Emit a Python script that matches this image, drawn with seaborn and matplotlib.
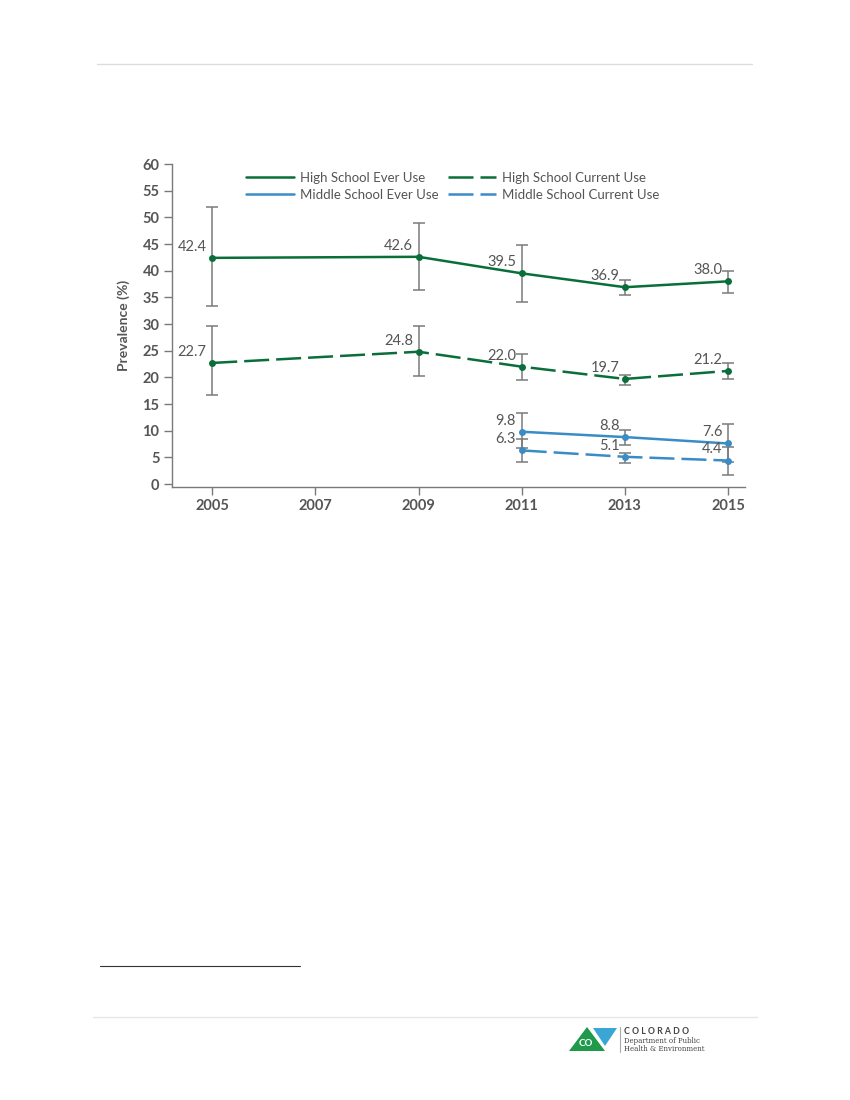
import numpy as np
import pandas as pd
import matplotlib
matplotlib.use("Agg")
import matplotlib.pyplot as plt
import seaborn as sns
from matplotlib.patches import Polygon
from matplotlib.lines import Line2D

# ---- data ----
series_names = ["High School Ever Use", "High School Current Use",
                "Middle School Ever Use", "Middle School Current Use"]
hs_years = [2005, 2009, 2011, 2013, 2015]
ms_years = [2011, 2013, 2015]
hs_ever = [42.4, 42.6, 39.5, 36.9, 38.0]
hs_ever_lo = [33.3, 36.4, 34.2, 35.4, 35.9]
hs_ever_hi = [51.9, 48.9, 44.8, 38.2, 39.9]
hs_curr = [22.7, 24.8, 22.0, 19.7, 21.2]
hs_curr_lo = [16.7, 20.3, 19.5, 18.5, 19.6]
hs_curr_hi = [29.6, 29.6, 24.4, 20.4, 22.6]
ms_ever = [9.8, 8.8, 7.6]
ms_ever_lo = [6.8, 7.3, 4.1]
ms_ever_hi = [13.4, 10.2, 11.2]
ms_curr = [6.3, 5.1, 4.4]
ms_curr_lo = [4.2, 3.9, 1.7]
ms_curr_hi = [8.5, 5.9, 7.0]
x_ticks = [2005, 2007, 2009, 2011, 2013, 2015]
y_ticks = list(range(0, 61, 5))

GREEN = "#0a6e3a"
BLUE = "#3a8cc6"
GRAY = "#555555"
EBAR = "#7a7a7a"

sns.set_theme(style="white")
plt.rcParams['font.family'] = ['Lato', 'DejaVu Sans']

rows = []
for name, yrs, vals, lo, hi in [
    (series_names[0], hs_years, hs_ever, hs_ever_lo, hs_ever_hi),
    (series_names[1], hs_years, hs_curr, hs_curr_lo, hs_curr_hi),
    (series_names[2], ms_years, ms_ever, ms_ever_lo, ms_ever_hi),
    (series_names[3], ms_years, ms_curr, ms_curr_lo, ms_curr_hi),
]:
    for y, v, l, h in zip(yrs, vals, lo, hi):
        rows.append(dict(series=name, year=y, value=v, lo=l, hi=h))
df = pd.DataFrame(rows)

fig = plt.figure(figsize=(8.5, 11), dpi=100)
W, H = 850, 1100
ax = fig.add_axes([172 / W, 1 - 487 / H, (745 - 172) / W, (487 - 164) / H])

palette = {series_names[0]: GREEN, series_names[1]: GREEN,
           series_names[2]: BLUE, series_names[3]: BLUE}
dashes = {series_names[0]: "", series_names[1]: (10, 2.8),
          series_names[2]: "", series_names[3]: (10, 2.8)}

# error bars first (behind lines)
for name in series_names:
    d = df[df.series == name]
    ax.errorbar(d.year, d.value,
                yerr=[d.value - d.lo, d.hi - d.value],
                fmt="none", ecolor=EBAR, elinewidth=1.1, capsize=4,
                capthick=1.1, zorder=2)

sns.lineplot(data=df, x="year", y="value", hue="series", style="series",
             palette=palette, dashes=dashes, markers={n: "o" for n in series_names},
             markersize=5, markeredgewidth=0, linewidth=1.8, ax=ax,
             hue_order=series_names, style_order=series_names, zorder=3,
             legend=False)

# value labels
for _, r in df.iterrows():
    ax.annotate(f"{r.value:.1f}", (r.year, r.value), xytext=(-4, 3),
                textcoords="offset points", ha="right", va="bottom",
                fontsize=10.5, color=GRAY, zorder=4)

ax.set_xlim(2004.22, 2015.33)
ax.set_ylim(-0.56, 60)
ax.set_xticks(x_ticks)
ax.set_xticklabels([str(t) for t in x_ticks], fontsize=10.5, fontweight="bold", color=GRAY)
ax.set_yticks(y_ticks)
ax.set_yticklabels([str(t) for t in y_ticks], fontsize=10.5, fontweight="bold", color=GRAY)
ax.tick_params(axis="both", direction="out", length=6, width=1, color=EBAR, pad=3,
               bottom=True, left=True)
ax.set_xlabel("")
ax.set_ylabel("Prevalence (%)", fontsize=10, fontweight="bold", color=GRAY, labelpad=9)
for s in ["top", "right"]:
    ax.spines[s].set_visible(False)
for s in ["left", "bottom"]:
    ax.spines[s].set_color(EBAR)
    ax.spines[s].set_linewidth(1)
ax.grid(False)

# legend
hs = [Line2D([0], [0], color=palette[n], linewidth=1.8,
             linestyle="-" if dashes[n] == "" else (0, dashes[n])) for n in series_names]
order = [0, 2, 1, 3]
leg = ax.legend([hs[i] for i in order], [series_names[i] for i in order],
                ncol=2, loc="upper left", bbox_to_anchor=(0.12, 0.993),
                frameon=False, fontsize=9.5, handlelength=3.64, handletextpad=0.45,
                columnspacing=0.68, labelspacing=0.38, borderaxespad=0)
for t in leg.get_texts():
    t.set_color(GRAY)

# page rules
fig.add_artist(plt.Line2D([97 / W, 752 / W], [1 - 64 / H, 1 - 64 / H], color="#dddddd", lw=1))
fig.add_artist(plt.Line2D([100 / W, 300 / W], [1 - 966 / H, 1 - 966 / H], color="#333333", lw=0.8))
fig.add_artist(plt.Line2D([93 / W, 757 / W], [1 - 1017 / H, 1 - 1017 / H], color="#e6e6e6", lw=1))

# logo (approximation)
def P(pts, color):
    fig.add_artist(Polygon([(x / W, 1 - y / H) for x, y in pts], closed=True,
                           facecolor=color, edgecolor="none", transform=fig.transFigure))
P([(569, 1051), (587, 1027), (605, 1051)], "#1e9a4a")
P([(593, 1028), (617, 1028), (605, 1046)], "#3aa6d6")
fig.text(586 / W, 1 - 1044 / H, "CO", fontsize=7, fontweight="bold", color="white",
         ha="center", va="center")
fig.add_artist(plt.Line2D([620 / W, 620 / W], [1 - 1027 / H, 1 - 1052 / H], color="#aaaaaa", lw=0.8))
fig.text(624 / W, 1 - 1031 / H, "C O L O R A D O", fontsize=6.3, fontweight="bold", color="#444444",
         va="center")
fig.text(624 / W, 1 - 1041 / H, "Department of Public", fontsize=5, color="#444444",
         va="center", family="DejaVu Serif")
fig.text(624 / W, 1 - 1049 / H, "Health & Environment", fontsize=5, color="#444444",
         va="center", family="DejaVu Serif")

fig.savefig("out.png", dpi=100)
